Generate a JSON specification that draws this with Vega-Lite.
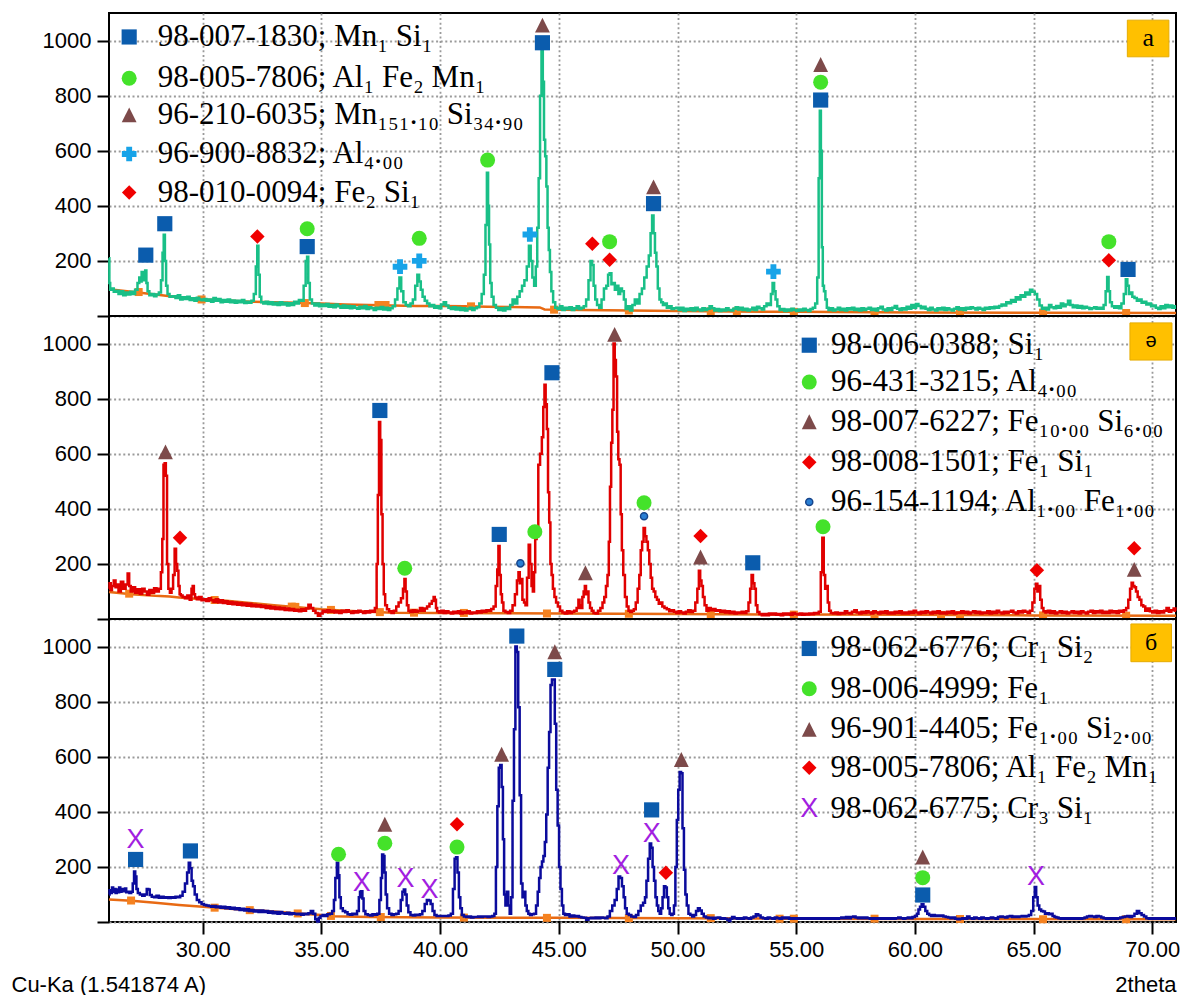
{
"$schema":"https://vega.github.io/schema/vega-lite/v6.json",
"autosize":{"type":"pad"},
"padding":{"left":10,"top":12,"right":2,"bottom":2},
"spacing":0,
"bounds":"flush",
"config":{"view":{"stroke":"black","strokeWidth":2},"axis":{"gridColor":"#9a9a9a","gridDash":[2,2.6],"gridWidth":1.8,"domain":false,"labelFont":"Liberation Sans","labelFontSize":22,"labelColor":"black","tickColor":"black","tickWidth":2,"tickSize":12},"font":"Liberation Sans"},
"datasets":{
"ta":[{"x":26.05,"y":210},{"x":26.08,"y":120},{"x":26.12,"y":95},{"x":26.2,"y":100},{"x":26.3,"y":88},{"x":26.4,"y":92},{"x":26.5,"y":80},{"x":26.6,"y":90},{"x":26.7,"y":75},{"x":26.8,"y":85},{"x":26.9,"y":78},{"x":27.0,"y":88},{"x":27.1,"y":80},{"x":27.2,"y":95},{"x":27.3,"y":120},{"x":27.35,"y":140},{"x":27.4,"y":125},{"x":27.45,"y":160},{"x":27.5,"y":130},{"x":27.55,"y":150},{"x":27.6,"y":165},{"x":27.65,"y":120},{"x":27.7,"y":90},{"x":27.8,"y":75},{"x":27.9,"y":80},{"x":28.0,"y":72},{"x":28.1,"y":78},{"x":28.2,"y":85},{"x":28.28,"y":130},{"x":28.33,"y":230},{"x":28.38,"y":295},{"x":28.43,"y":200},{"x":28.48,"y":110},{"x":28.55,"y":80},{"x":28.65,"y":70},{"x":28.8,"y":72},{"x":28.9,"y":65},{"x":29.0,"y":75},{"x":29.1,"y":60},{"x":29.2,"y":68},{"x":29.3,"y":62},{"x":29.4,"y":70},{"x":29.5,"y":58},{"x":29.6,"y":64},{"x":29.7,"y":55},{"x":29.8,"y":66},{"x":29.9,"y":60},{"x":30.0,"y":57},{"x":30.1,"y":62},{"x":30.2,"y":55},{"x":30.3,"y":60},{"x":30.4,"y":52},{"x":30.5,"y":65},{"x":30.6,"y":55},{"x":30.7,"y":62},{"x":30.8,"y":50},{"x":30.9,"y":58},{"x":31.0,"y":52},{"x":31.1,"y":60},{"x":31.2,"y":50},{"x":31.3,"y":56},{"x":31.4,"y":48},{"x":31.5,"y":55},{"x":31.6,"y":50},{"x":31.7,"y":58},{"x":31.8,"y":47},{"x":31.9,"y":52},{"x":32.0,"y":48},{"x":32.1,"y":55},{"x":32.2,"y":80},{"x":32.27,"y":180},{"x":32.32,"y":255},{"x":32.37,"y":150},{"x":32.43,"y":70},{"x":32.5,"y":50},{"x":32.6,"y":45},{"x":32.7,"y":52},{"x":32.8,"y":44},{"x":32.9,"y":50},{"x":33.0,"y":42},{"x":33.1,"y":48},{"x":33.2,"y":40},{"x":33.3,"y":50},{"x":33.4,"y":42},{"x":33.5,"y":47},{"x":33.6,"y":38},{"x":33.7,"y":46},{"x":33.8,"y":40},{"x":33.9,"y":52},{"x":34.0,"y":45},{"x":34.1,"y":58},{"x":34.2,"y":55},{"x":34.3,"y":110},{"x":34.37,"y":200},{"x":34.42,"y":215},{"x":34.47,"y":120},{"x":34.55,"y":60},{"x":34.65,"y":45},{"x":34.75,"y":38},{"x":34.85,"y":45},{"x":34.95,"y":35},{"x":35.05,"y":42},{"x":35.15,"y":36},{"x":35.25,"y":44},{"x":35.35,"y":34},{"x":35.45,"y":40},{"x":35.55,"y":32},{"x":35.65,"y":42},{"x":35.75,"y":35},{"x":35.85,"y":30},{"x":35.95,"y":38},{"x":36.05,"y":30},{"x":36.15,"y":36},{"x":36.25,"y":28},{"x":36.35,"y":35},{"x":36.45,"y":30},{"x":36.55,"y":26},{"x":36.65,"y":34},{"x":36.75,"y":28},{"x":36.85,"y":36},{"x":36.95,"y":25},{"x":37.05,"y":32},{"x":37.15,"y":28},{"x":37.25,"y":22},{"x":37.35,"y":30},{"x":37.45,"y":25},{"x":37.55,"y":33},{"x":37.65,"y":24},{"x":37.75,"y":30},{"x":37.85,"y":22},{"x":37.95,"y":28},{"x":38.05,"y":35},{"x":38.15,"y":60},{"x":38.25,"y":100},{"x":38.32,"y":140},{"x":38.4,"y":90},{"x":38.5,"y":50},{"x":38.6,"y":40},{"x":38.7,"y":35},{"x":38.8,"y":45},{"x":38.9,"y":60},{"x":39.0,"y":110},{"x":39.08,"y":150},{"x":39.15,"y":125},{"x":39.22,"y":95},{"x":39.3,"y":70},{"x":39.4,"y":55},{"x":39.5,"y":45},{"x":39.6,"y":35},{"x":39.7,"y":40},{"x":39.8,"y":30},{"x":39.9,"y":35},{"x":40.0,"y":28},{"x":40.1,"y":42},{"x":40.2,"y":50},{"x":40.3,"y":38},{"x":40.4,"y":30},{"x":40.5,"y":25},{"x":40.6,"y":32},{"x":40.7,"y":24},{"x":40.8,"y":30},{"x":40.9,"y":22},{"x":41.0,"y":28},{"x":41.1,"y":20},{"x":41.2,"y":26},{"x":41.3,"y":30},{"x":41.4,"y":22},{"x":41.5,"y":28},{"x":41.6,"y":32},{"x":41.7,"y":45},{"x":41.8,"y":80},{"x":41.88,"y":150},{"x":41.94,"y":330},{"x":42.0,"y":520},{"x":42.04,"y":400},{"x":42.08,"y":260},{"x":42.14,"y":120},{"x":42.2,"y":70},{"x":42.3,"y":40},{"x":42.4,"y":30},{"x":42.5,"y":22},{"x":42.6,"y":28},{"x":42.7,"y":20},{"x":42.8,"y":30},{"x":42.9,"y":25},{"x":43.0,"y":40},{"x":43.1,"y":60},{"x":43.2,"y":45},{"x":43.3,"y":70},{"x":43.4,"y":90},{"x":43.5,"y":110},{"x":43.6,"y":130},{"x":43.7,"y":180},{"x":43.78,"y":255},{"x":43.85,"y":200},{"x":43.92,"y":140},{"x":44.0,"y":110},{"x":44.06,"y":180},{"x":44.12,"y":320},{"x":44.18,"y":500},{"x":44.24,"y":800},{"x":44.3,"y":965},{"x":44.35,"y":850},{"x":44.4,"y":640},{"x":44.45,"y":580},{"x":44.5,"y":470},{"x":44.55,"y":320},{"x":44.6,"y":240},{"x":44.65,"y":160},{"x":44.72,"y":90},{"x":44.8,"y":50},{"x":44.9,"y":30},{"x":45.0,"y":25},{"x":45.1,"y":35},{"x":45.2,"y":22},{"x":45.3,"y":30},{"x":45.4,"y":25},{"x":45.5,"y":32},{"x":45.6,"y":22},{"x":45.7,"y":28},{"x":45.8,"y":35},{"x":45.9,"y":25},{"x":46.0,"y":30},{"x":46.1,"y":35},{"x":46.2,"y":60},{"x":46.3,"y":130},{"x":46.37,"y":200},{"x":46.43,"y":185},{"x":46.5,"y":110},{"x":46.57,"y":60},{"x":46.65,"y":40},{"x":46.75,"y":30},{"x":46.85,"y":60},{"x":46.95,"y":100},{"x":47.05,"y":110},{"x":47.1,"y":150},{"x":47.18,"y":155},{"x":47.25,"y":115},{"x":47.32,"y":120},{"x":47.4,"y":95},{"x":47.47,"y":110},{"x":47.55,"y":80},{"x":47.62,"y":100},{"x":47.7,"y":90},{"x":47.78,"y":60},{"x":47.85,"y":25},{"x":47.95,"y":35},{"x":48.05,"y":20},{"x":48.15,"y":40},{"x":48.25,"y":60},{"x":48.35,"y":45},{"x":48.45,"y":80},{"x":48.55,"y":100},{"x":48.65,"y":140},{"x":48.75,"y":180},{"x":48.83,"y":220},{"x":48.9,"y":300},{"x":48.96,"y":365},{"x":49.02,"y":300},{"x":49.08,"y":230},{"x":49.14,"y":180},{"x":49.2,"y":100},{"x":49.28,"y":60},{"x":49.35,"y":50},{"x":49.42,"y":40},{"x":49.5,"y":45},{"x":49.6,"y":30},{"x":49.7,"y":35},{"x":49.8,"y":25},{"x":49.9,"y":28},{"x":50.0,"y":30},{"x":50.1,"y":22},{"x":50.2,"y":30},{"x":50.3,"y":18},{"x":50.4,"y":26},{"x":50.5,"y":22},{"x":50.6,"y":28},{"x":50.7,"y":20},{"x":50.8,"y":30},{"x":50.9,"y":24},{"x":51.0,"y":20},{"x":51.1,"y":28},{"x":51.2,"y":22},{"x":51.3,"y":26},{"x":51.4,"y":35},{"x":51.5,"y":28},{"x":51.6,"y":20},{"x":51.7,"y":25},{"x":51.8,"y":18},{"x":51.9,"y":24},{"x":52.0,"y":20},{"x":52.1,"y":28},{"x":52.2,"y":22},{"x":52.3,"y":20},{"x":52.4,"y":26},{"x":52.5,"y":32},{"x":52.6,"y":24},{"x":52.7,"y":30},{"x":52.8,"y":22},{"x":52.9,"y":26},{"x":53.0,"y":20},{"x":53.1,"y":24},{"x":53.2,"y":30},{"x":53.3,"y":22},{"x":53.4,"y":34},{"x":53.5,"y":28},{"x":53.6,"y":24},{"x":53.7,"y":35},{"x":53.8,"y":45},{"x":53.9,"y":40},{"x":53.97,"y":80},{"x":54.04,"y":120},{"x":54.1,"y":90},{"x":54.16,"y":60},{"x":54.25,"y":35},{"x":54.35,"y":22},{"x":54.45,"y":25},{"x":54.55,"y":18},{"x":54.65,"y":24},{"x":54.75,"y":20},{"x":54.85,"y":26},{"x":54.95,"y":22},{"x":55.05,"y":18},{"x":55.15,"y":24},{"x":55.25,"y":20},{"x":55.35,"y":26},{"x":55.45,"y":22},{"x":55.55,"y":18},{"x":55.65,"y":25},{"x":55.75,"y":30},{"x":55.85,"y":45},{"x":55.92,"y":140},{"x":55.97,"y":500},{"x":56.02,"y":745},{"x":56.06,"y":600},{"x":56.1,"y":250},{"x":56.14,"y":110},{"x":56.2,"y":90},{"x":56.26,"y":60},{"x":56.32,"y":30},{"x":56.4,"y":22},{"x":56.5,"y":28},{"x":56.6,"y":20},{"x":56.7,"y":24},{"x":56.8,"y":30},{"x":56.9,"y":22},{"x":57.0,"y":26},{"x":57.1,"y":20},{"x":57.2,"y":28},{"x":57.3,"y":24},{"x":57.4,"y":30},{"x":57.5,"y":22},{"x":57.6,"y":26},{"x":57.7,"y":20},{"x":57.8,"y":28},{"x":57.9,"y":22},{"x":58.0,"y":26},{"x":58.1,"y":30},{"x":58.2,"y":22},{"x":58.3,"y":26},{"x":58.4,"y":20},{"x":58.5,"y":28},{"x":58.6,"y":34},{"x":58.7,"y":24},{"x":58.8,"y":20},{"x":58.9,"y":28},{"x":59.0,"y":22},{"x":59.1,"y":30},{"x":59.2,"y":36},{"x":59.3,"y":26},{"x":59.4,"y":22},{"x":59.5,"y":28},{"x":59.6,"y":24},{"x":59.7,"y":34},{"x":59.8,"y":26},{"x":59.9,"y":40},{"x":60.0,"y":30},{"x":60.1,"y":44},{"x":60.2,"y":36},{"x":60.3,"y":28},{"x":60.4,"y":34},{"x":60.5,"y":26},{"x":60.6,"y":22},{"x":60.7,"y":30},{"x":60.8,"y":24},{"x":60.9,"y":20},{"x":61.0,"y":28},{"x":61.1,"y":24},{"x":61.2,"y":30},{"x":61.3,"y":22},{"x":61.4,"y":28},{"x":61.5,"y":24},{"x":61.6,"y":20},{"x":61.7,"y":26},{"x":61.8,"y":32},{"x":61.9,"y":24},{"x":62.0,"y":28},{"x":62.1,"y":22},{"x":62.2,"y":30},{"x":62.3,"y":26},{"x":62.4,"y":32},{"x":62.5,"y":28},{"x":62.6,"y":24},{"x":62.7,"y":30},{"x":62.8,"y":26},{"x":62.9,"y":22},{"x":63.0,"y":30},{"x":63.1,"y":26},{"x":63.2,"y":32},{"x":63.3,"y":28},{"x":63.4,"y":34},{"x":63.5,"y":30},{"x":63.6,"y":36},{"x":63.7,"y":42},{"x":63.8,"y":38},{"x":63.9,"y":50},{"x":64.0,"y":46},{"x":64.1,"y":58},{"x":64.2,"y":52},{"x":64.3,"y":68},{"x":64.4,"y":60},{"x":64.5,"y":75},{"x":64.6,"y":70},{"x":64.7,"y":85},{"x":64.8,"y":78},{"x":64.9,"y":95},{"x":65.0,"y":88},{"x":65.1,"y":80},{"x":65.2,"y":60},{"x":65.3,"y":38},{"x":65.4,"y":26},{"x":65.5,"y":30},{"x":65.6,"y":24},{"x":65.7,"y":40},{"x":65.8,"y":32},{"x":65.9,"y":28},{"x":66.0,"y":36},{"x":66.1,"y":30},{"x":66.2,"y":45},{"x":66.3,"y":35},{"x":66.4,"y":42},{"x":66.5,"y":55},{"x":66.6,"y":40},{"x":66.7,"y":32},{"x":66.8,"y":38},{"x":66.9,"y":30},{"x":67.0,"y":36},{"x":67.1,"y":28},{"x":67.2,"y":34},{"x":67.3,"y":30},{"x":67.4,"y":25},{"x":67.5,"y":28},{"x":67.6,"y":32},{"x":67.7,"y":26},{"x":67.8,"y":30},{"x":67.9,"y":26},{"x":68.0,"y":40},{"x":68.07,"y":90},{"x":68.13,"y":142},{"x":68.19,"y":90},{"x":68.25,"y":50},{"x":68.35,"y":35},{"x":68.45,"y":30},{"x":68.55,"y":35},{"x":68.65,"y":28},{"x":68.75,"y":45},{"x":68.85,"y":80},{"x":68.92,"y":133},{"x":68.98,"y":110},{"x":69.05,"y":80},{"x":69.12,"y":85},{"x":69.2,"y":70},{"x":69.3,"y":65},{"x":69.4,"y":55},{"x":69.5,"y":60},{"x":69.6,"y":48},{"x":69.7,"y":52},{"x":69.8,"y":42},{"x":69.9,"y":45},{"x":70.0,"y":35},{"x":70.1,"y":38},{"x":70.2,"y":30},{"x":70.3,"y":25},{"x":70.4,"y":35},{"x":70.5,"y":28},{"x":70.6,"y":40},{"x":70.7,"y":32},{"x":70.8,"y":38},{"x":70.9,"y":30},{"x":71.0,"y":35}],
"tb":[{"x":26.05,"y":110},{"x":26.1,"y":130},{"x":26.15,"y":105},{"x":26.2,"y":120},{"x":26.3,"y":140},{"x":26.35,"y":115},{"x":26.4,"y":125},{"x":26.5,"y":100},{"x":26.6,"y":135},{"x":26.7,"y":110},{"x":26.8,"y":125},{"x":26.87,"y":165},{"x":26.93,"y":120},{"x":27.0,"y":100},{"x":27.1,"y":115},{"x":27.2,"y":95},{"x":27.3,"y":108},{"x":27.4,"y":92},{"x":27.5,"y":110},{"x":27.6,"y":100},{"x":27.7,"y":88},{"x":27.8,"y":105},{"x":27.9,"y":95},{"x":28.0,"y":112},{"x":28.1,"y":100},{"x":28.2,"y":110},{"x":28.27,"y":170},{"x":28.32,"y":290},{"x":28.37,"y":560},{"x":28.42,"y":565},{"x":28.47,"y":520},{"x":28.52,"y":200},{"x":28.58,"y":110},{"x":28.65,"y":95},{"x":28.72,"y":110},{"x":28.78,"y":160},{"x":28.85,"y":255},{"x":28.9,"y":200},{"x":28.95,"y":175},{"x":29.0,"y":120},{"x":29.05,"y":90},{"x":29.1,"y":85},{"x":29.2,"y":80},{"x":29.3,"y":75},{"x":29.4,"y":85},{"x":29.5,"y":70},{"x":29.55,"y":110},{"x":29.6,"y":120},{"x":29.65,"y":90},{"x":29.7,"y":78},{"x":29.8,"y":72},{"x":29.9,"y":80},{"x":30.0,"y":68},{"x":30.1,"y":72},{"x":30.2,"y":65},{"x":30.3,"y":75},{"x":30.4,"y":68},{"x":30.5,"y":62},{"x":30.6,"y":72},{"x":30.7,"y":60},{"x":30.8,"y":68},{"x":30.9,"y":58},{"x":31.0,"y":64},{"x":31.1,"y":55},{"x":31.2,"y":62},{"x":31.3,"y":54},{"x":31.4,"y":60},{"x":31.5,"y":52},{"x":31.6,"y":58},{"x":31.7,"y":50},{"x":31.8,"y":56},{"x":31.9,"y":48},{"x":32.0,"y":55},{"x":32.1,"y":46},{"x":32.2,"y":52},{"x":32.3,"y":45},{"x":32.4,"y":50},{"x":32.5,"y":44},{"x":32.6,"y":48},{"x":32.7,"y":40},{"x":32.8,"y":46},{"x":32.9,"y":38},{"x":33.0,"y":44},{"x":33.1,"y":36},{"x":33.2,"y":42},{"x":33.3,"y":35},{"x":33.4,"y":40},{"x":33.5,"y":33},{"x":33.6,"y":38},{"x":33.7,"y":32},{"x":33.8,"y":36},{"x":33.9,"y":30},{"x":34.0,"y":34},{"x":34.1,"y":28},{"x":34.2,"y":35},{"x":34.3,"y":30},{"x":34.4,"y":38},{"x":34.5,"y":52},{"x":34.6,"y":40},{"x":34.7,"y":30},{"x":34.8,"y":22},{"x":34.9,"y":12},{"x":35.0,"y":20},{"x":35.1,"y":30},{"x":35.2,"y":25},{"x":35.3,"y":32},{"x":35.4,"y":26},{"x":35.5,"y":30},{"x":35.6,"y":24},{"x":35.7,"y":28},{"x":35.8,"y":22},{"x":35.9,"y":30},{"x":36.0,"y":25},{"x":36.1,"y":32},{"x":36.2,"y":26},{"x":36.3,"y":22},{"x":36.4,"y":28},{"x":36.5,"y":24},{"x":36.6,"y":30},{"x":36.7,"y":26},{"x":36.8,"y":22},{"x":36.9,"y":28},{"x":37.0,"y":24},{"x":37.1,"y":30},{"x":37.2,"y":26},{"x":37.3,"y":40},{"x":37.35,"y":200},{"x":37.4,"y":450},{"x":37.45,"y":715},{"x":37.5,"y":650},{"x":37.55,"y":380},{"x":37.6,"y":200},{"x":37.65,"y":90},{"x":37.72,"y":50},{"x":37.8,"y":35},{"x":37.9,"y":28},{"x":38.0,"y":22},{"x":38.1,"y":30},{"x":38.2,"y":45},{"x":38.3,"y":60},{"x":38.4,"y":75},{"x":38.47,"y":110},{"x":38.52,"y":145},{"x":38.57,"y":100},{"x":38.63,"y":50},{"x":38.7,"y":30},{"x":38.8,"y":25},{"x":38.9,"y":32},{"x":39.0,"y":26},{"x":39.1,"y":30},{"x":39.2,"y":40},{"x":39.3,"y":30},{"x":39.4,"y":38},{"x":39.5,"y":45},{"x":39.6,"y":55},{"x":39.7,"y":65},{"x":39.75,"y":80},{"x":39.8,"y":70},{"x":39.85,"y":40},{"x":39.9,"y":28},{"x":40.0,"y":24},{"x":40.1,"y":30},{"x":40.2,"y":22},{"x":40.3,"y":28},{"x":40.4,"y":24},{"x":40.5,"y":20},{"x":40.6,"y":26},{"x":40.7,"y":22},{"x":40.8,"y":28},{"x":40.9,"y":20},{"x":41.0,"y":25},{"x":41.1,"y":22},{"x":41.2,"y":28},{"x":41.3,"y":20},{"x":41.4,"y":24},{"x":41.5,"y":22},{"x":41.6,"y":28},{"x":41.7,"y":24},{"x":41.8,"y":30},{"x":41.9,"y":26},{"x":42.0,"y":32},{"x":42.1,"y":30},{"x":42.2,"y":36},{"x":42.3,"y":45},{"x":42.38,"y":120},{"x":42.43,"y":180},{"x":42.48,"y":265},{"x":42.53,"y":160},{"x":42.58,"y":90},{"x":42.63,"y":60},{"x":42.7,"y":30},{"x":42.8,"y":25},{"x":42.9,"y":22},{"x":43.0,"y":30},{"x":43.1,"y":50},{"x":43.2,"y":90},{"x":43.27,"y":140},{"x":43.33,"y":170},{"x":43.38,"y":130},{"x":43.43,"y":145},{"x":43.5,"y":70},{"x":43.57,"y":60},{"x":43.62,"y":50},{"x":43.7,"y":150},{"x":43.76,"y":270},{"x":43.82,"y":200},{"x":43.88,"y":120},{"x":43.93,"y":100},{"x":43.98,"y":170},{"x":44.03,"y":290},{"x":44.1,"y":300},{"x":44.17,"y":560},{"x":44.25,"y":600},{"x":44.32,"y":660},{"x":44.37,"y":770},{"x":44.42,"y":850},{"x":44.47,"y":780},{"x":44.52,"y":690},{"x":44.57,"y":460},{"x":44.62,"y":350},{"x":44.67,"y":200},{"x":44.72,"y":160},{"x":44.78,"y":110},{"x":44.85,"y":80},{"x":44.92,"y":60},{"x":45.0,"y":45},{"x":45.1,"y":30},{"x":45.2,"y":24},{"x":45.3,"y":20},{"x":45.4,"y":28},{"x":45.5,"y":22},{"x":45.6,"y":26},{"x":45.7,"y":30},{"x":45.8,"y":40},{"x":45.85,"y":70},{"x":45.9,"y":50},{"x":45.96,"y":40},{"x":46.02,"y":80},{"x":46.07,"y":100},{"x":46.12,"y":120},{"x":46.17,"y":90},{"x":46.22,"y":100},{"x":46.28,"y":60},{"x":46.35,"y":40},{"x":46.42,"y":30},{"x":46.5,"y":22},{"x":46.6,"y":20},{"x":46.7,"y":30},{"x":46.8,"y":40},{"x":46.88,"y":60},{"x":46.95,"y":80},{"x":47.02,"y":120},{"x":47.08,"y":160},{"x":47.13,"y":280},{"x":47.18,"y":480},{"x":47.23,"y":640},{"x":47.28,"y":760},{"x":47.33,"y":1000},{"x":47.38,"y":940},{"x":47.43,"y":880},{"x":47.48,"y":680},{"x":47.53,"y":580},{"x":47.58,"y":560},{"x":47.63,"y":380},{"x":47.68,"y":250},{"x":47.75,"y":160},{"x":47.82,"y":80},{"x":47.9,"y":45},{"x":47.97,"y":30},{"x":48.05,"y":25},{"x":48.12,"y":30},{"x":48.2,"y":35},{"x":48.28,"y":60},{"x":48.36,"y":110},{"x":48.42,"y":160},{"x":48.48,"y":250},{"x":48.54,"y":280},{"x":48.6,"y":330},{"x":48.66,"y":300},{"x":48.72,"y":280},{"x":48.78,"y":250},{"x":48.84,"y":200},{"x":48.9,"y":150},{"x":48.96,"y":110},{"x":49.03,"y":100},{"x":49.1,"y":80},{"x":49.17,"y":70},{"x":49.25,"y":55},{"x":49.32,"y":60},{"x":49.4,"y":45},{"x":49.5,"y":40},{"x":49.6,"y":35},{"x":49.7,"y":28},{"x":49.8,"y":32},{"x":49.9,"y":26},{"x":50.0,"y":22},{"x":50.1,"y":28},{"x":50.2,"y":24},{"x":50.3,"y":20},{"x":50.4,"y":26},{"x":50.5,"y":32},{"x":50.6,"y":25},{"x":50.7,"y":30},{"x":50.8,"y":60},{"x":50.87,"y":110},{"x":50.93,"y":175},{"x":50.98,"y":140},{"x":51.04,"y":120},{"x":51.1,"y":80},{"x":51.18,"y":50},{"x":51.26,"y":30},{"x":51.35,"y":40},{"x":51.45,"y":32},{"x":51.55,"y":36},{"x":51.65,"y":30},{"x":51.75,"y":32},{"x":51.85,"y":26},{"x":51.95,"y":30},{"x":52.05,"y":24},{"x":52.15,"y":28},{"x":52.25,"y":22},{"x":52.35,"y":26},{"x":52.45,"y":20},{"x":52.55,"y":24},{"x":52.65,"y":22},{"x":52.75,"y":26},{"x":52.85,"y":22},{"x":52.95,"y":28},{"x":53.03,"y":60},{"x":53.09,"y":110},{"x":53.15,"y":160},{"x":53.21,"y":130},{"x":53.27,"y":110},{"x":53.33,"y":50},{"x":53.4,"y":25},{"x":53.5,"y":18},{"x":53.6,"y":14},{"x":53.7,"y":18},{"x":53.8,"y":14},{"x":53.9,"y":20},{"x":54.0,"y":16},{"x":54.1,"y":20},{"x":54.2,"y":15},{"x":54.3,"y":18},{"x":54.4,"y":14},{"x":54.5,"y":20},{"x":54.6,"y":16},{"x":54.7,"y":20},{"x":54.8,"y":15},{"x":54.9,"y":22},{"x":55.0,"y":18},{"x":55.1,"y":16},{"x":55.2,"y":20},{"x":55.3,"y":15},{"x":55.4,"y":19},{"x":55.5,"y":16},{"x":55.6,"y":20},{"x":55.7,"y":17},{"x":55.8,"y":22},{"x":55.9,"y":20},{"x":56.0,"y":26},{"x":56.07,"y":170},{"x":56.13,"y":295},{"x":56.19,"y":160},{"x":56.25,"y":110},{"x":56.3,"y":120},{"x":56.36,"y":60},{"x":56.42,"y":30},{"x":56.5,"y":22},{"x":56.6,"y":20},{"x":56.7,"y":24},{"x":56.8,"y":18},{"x":56.9,"y":22},{"x":57.0,"y":20},{"x":57.1,"y":28},{"x":57.2,"y":22},{"x":57.3,"y":20},{"x":57.4,"y":26},{"x":57.5,"y":32},{"x":57.6,"y":24},{"x":57.7,"y":20},{"x":57.8,"y":26},{"x":57.9,"y":22},{"x":58.0,"y":28},{"x":58.1,"y":24},{"x":58.2,"y":20},{"x":58.3,"y":28},{"x":58.4,"y":24},{"x":58.5,"y":20},{"x":58.6,"y":26},{"x":58.7,"y":22},{"x":58.8,"y":28},{"x":58.9,"y":20},{"x":59.0,"y":24},{"x":59.1,"y":20},{"x":59.2,"y":26},{"x":59.3,"y":22},{"x":59.4,"y":28},{"x":59.5,"y":20},{"x":59.6,"y":24},{"x":59.7,"y":20},{"x":59.8,"y":26},{"x":59.9,"y":22},{"x":60.0,"y":30},{"x":60.1,"y":24},{"x":60.2,"y":20},{"x":60.3,"y":26},{"x":60.4,"y":22},{"x":60.5,"y":28},{"x":60.6,"y":24},{"x":60.7,"y":20},{"x":60.8,"y":26},{"x":60.9,"y":22},{"x":61.0,"y":28},{"x":61.1,"y":20},{"x":61.2,"y":24},{"x":61.3,"y":20},{"x":61.4,"y":26},{"x":61.5,"y":22},{"x":61.6,"y":28},{"x":61.7,"y":20},{"x":61.8,"y":24},{"x":61.9,"y":22},{"x":62.0,"y":28},{"x":62.1,"y":22},{"x":62.2,"y":26},{"x":62.3,"y":20},{"x":62.4,"y":24},{"x":62.5,"y":28},{"x":62.6,"y":22},{"x":62.7,"y":26},{"x":62.8,"y":20},{"x":62.9,"y":24},{"x":63.0,"y":22},{"x":63.1,"y":28},{"x":63.2,"y":20},{"x":63.3,"y":26},{"x":63.4,"y":22},{"x":63.5,"y":30},{"x":63.6,"y":24},{"x":63.7,"y":20},{"x":63.8,"y":26},{"x":63.9,"y":22},{"x":64.0,"y":26},{"x":64.1,"y":30},{"x":64.2,"y":24},{"x":64.3,"y":20},{"x":64.4,"y":28},{"x":64.5,"y":24},{"x":64.6,"y":30},{"x":64.7,"y":26},{"x":64.8,"y":22},{"x":64.9,"y":30},{"x":65.0,"y":60},{"x":65.07,"y":110},{"x":65.13,"y":128},{"x":65.19,"y":100},{"x":65.25,"y":120},{"x":65.31,"y":70},{"x":65.38,"y":40},{"x":65.45,"y":28},{"x":65.55,"y":24},{"x":65.65,"y":30},{"x":65.75,"y":22},{"x":65.85,"y":28},{"x":65.95,"y":20},{"x":66.05,"y":24},{"x":66.15,"y":28},{"x":66.25,"y":22},{"x":66.35,"y":26},{"x":66.45,"y":20},{"x":66.55,"y":24},{"x":66.65,"y":28},{"x":66.75,"y":22},{"x":66.85,"y":26},{"x":66.95,"y":20},{"x":67.05,"y":28},{"x":67.15,"y":24},{"x":67.25,"y":20},{"x":67.35,"y":26},{"x":67.45,"y":30},{"x":67.55,"y":22},{"x":67.65,"y":28},{"x":67.75,"y":24},{"x":67.85,"y":30},{"x":67.95,"y":22},{"x":68.05,"y":26},{"x":68.15,"y":22},{"x":68.25,"y":30},{"x":68.35,"y":24},{"x":68.45,"y":28},{"x":68.55,"y":22},{"x":68.65,"y":30},{"x":68.75,"y":26},{"x":68.85,"y":32},{"x":68.95,"y":40},{"x":69.03,"y":70},{"x":69.1,"y":110},{"x":69.16,"y":132},{"x":69.22,"y":120},{"x":69.28,"y":115},{"x":69.35,"y":100},{"x":69.42,"y":80},{"x":69.5,"y":70},{"x":69.58,"y":50},{"x":69.66,"y":45},{"x":69.75,"y":30},{"x":69.85,"y":38},{"x":69.95,"y":28},{"x":70.05,"y":24},{"x":70.15,"y":30},{"x":70.25,"y":22},{"x":70.35,"y":28},{"x":70.45,"y":24},{"x":70.55,"y":30},{"x":70.65,"y":40},{"x":70.75,"y":26},{"x":70.85,"y":32},{"x":70.95,"y":38},{"x":71.0,"y":30}],
"tc":[{"x":26.05,"y":100},{"x":26.1,"y":115},{"x":26.15,"y":105},{"x":26.2,"y":125},{"x":26.25,"y":110},{"x":26.3,"y":120},{"x":26.35,"y":105},{"x":26.4,"y":118},{"x":26.45,"y":108},{"x":26.5,"y":125},{"x":26.55,"y":110},{"x":26.6,"y":120},{"x":26.65,"y":115},{"x":26.7,"y":112},{"x":26.75,"y":122},{"x":26.8,"y":108},{"x":26.87,"y":110},{"x":26.95,"y":105},{"x":27.02,"y":110},{"x":27.08,"y":140},{"x":27.13,"y":183},{"x":27.18,"y":165},{"x":27.23,"y":120},{"x":27.3,"y":105},{"x":27.4,"y":100},{"x":27.5,"y":95},{"x":27.6,"y":100},{"x":27.68,"y":120},{"x":27.73,"y":118},{"x":27.8,"y":98},{"x":27.9,"y":92},{"x":28.0,"y":90},{"x":28.1,"y":95},{"x":28.2,"y":88},{"x":28.3,"y":92},{"x":28.4,"y":88},{"x":28.5,"y":90},{"x":28.6,"y":87},{"x":28.7,"y":90},{"x":28.8,"y":88},{"x":28.9,"y":92},{"x":29.0,"y":90},{"x":29.1,"y":95},{"x":29.2,"y":110},{"x":29.3,"y":140},{"x":29.38,"y":180},{"x":29.44,"y":215},{"x":29.5,"y":195},{"x":29.56,"y":150},{"x":29.62,"y":130},{"x":29.7,"y":100},{"x":29.8,"y":80},{"x":29.9,"y":72},{"x":30.0,"y":65},{"x":30.1,"y":62},{"x":30.2,"y":60},{"x":30.3,"y":58},{"x":30.4,"y":55},{"x":30.5,"y":58},{"x":30.6,"y":54},{"x":30.7,"y":56},{"x":30.8,"y":52},{"x":30.9,"y":55},{"x":31.0,"y":50},{"x":31.1,"y":54},{"x":31.2,"y":48},{"x":31.3,"y":52},{"x":31.4,"y":46},{"x":31.5,"y":50},{"x":31.6,"y":44},{"x":31.7,"y":48},{"x":31.8,"y":42},{"x":31.9,"y":46},{"x":32.0,"y":40},{"x":32.1,"y":44},{"x":32.2,"y":38},{"x":32.3,"y":42},{"x":32.4,"y":36},{"x":32.5,"y":42},{"x":32.6,"y":36},{"x":32.7,"y":40},{"x":32.8,"y":34},{"x":32.9,"y":38},{"x":33.0,"y":32},{"x":33.1,"y":36},{"x":33.2,"y":30},{"x":33.3,"y":36},{"x":33.4,"y":32},{"x":33.5,"y":30},{"x":33.6,"y":34},{"x":33.7,"y":28},{"x":33.8,"y":32},{"x":33.9,"y":30},{"x":34.0,"y":28},{"x":34.1,"y":30},{"x":34.2,"y":26},{"x":34.3,"y":30},{"x":34.4,"y":28},{"x":34.5,"y":32},{"x":34.6,"y":40},{"x":34.7,"y":30},{"x":34.78,"y":10},{"x":34.85,"y":2},{"x":34.92,"y":15},{"x":35.0,"y":22},{"x":35.1,"y":25},{"x":35.2,"y":22},{"x":35.3,"y":28},{"x":35.4,"y":30},{"x":35.5,"y":40},{"x":35.55,"y":80},{"x":35.62,"y":160},{"x":35.68,"y":215},{"x":35.73,"y":170},{"x":35.78,"y":90},{"x":35.85,"y":50},{"x":35.95,"y":40},{"x":36.05,"y":35},{"x":36.15,"y":28},{"x":36.25,"y":26},{"x":36.35,"y":30},{"x":36.45,"y":28},{"x":36.55,"y":40},{"x":36.6,"y":90},{"x":36.65,"y":110},{"x":36.7,"y":112},{"x":36.75,"y":85},{"x":36.8,"y":40},{"x":36.9,"y":28},{"x":37.0,"y":25},{"x":37.1,"y":24},{"x":37.2,"y":28},{"x":37.3,"y":26},{"x":37.4,"y":30},{"x":37.48,"y":80},{"x":37.53,"y":160},{"x":37.58,"y":245},{"x":37.63,"y":240},{"x":37.68,"y":180},{"x":37.73,"y":100},{"x":37.8,"y":50},{"x":37.9,"y":30},{"x":38.0,"y":25},{"x":38.1,"y":28},{"x":38.2,"y":30},{"x":38.3,"y":40},{"x":38.38,"y":80},{"x":38.44,"y":110},{"x":38.5,"y":118},{"x":38.56,"y":100},{"x":38.62,"y":60},{"x":38.7,"y":35},{"x":38.8,"y":25},{"x":38.9,"y":24},{"x":39.0,"y":26},{"x":39.1,"y":25},{"x":39.2,"y":28},{"x":39.3,"y":40},{"x":39.4,"y":65},{"x":39.48,"y":80},{"x":39.56,"y":78},{"x":39.64,"y":65},{"x":39.72,"y":40},{"x":39.8,"y":25},{"x":39.9,"y":22},{"x":40.0,"y":22},{"x":40.1,"y":22},{"x":40.2,"y":22},{"x":40.3,"y":22},{"x":40.4,"y":24},{"x":40.5,"y":30},{"x":40.58,"y":120},{"x":40.64,"y":230},{"x":40.7,"y":235},{"x":40.76,"y":180},{"x":40.82,"y":90},{"x":40.88,"y":50},{"x":40.95,"y":25},{"x":41.05,"y":20},{"x":41.15,"y":18},{"x":41.25,"y":20},{"x":41.35,"y":16},{"x":41.45,"y":18},{"x":41.55,"y":18},{"x":41.65,"y":20},{"x":41.75,"y":18},{"x":41.85,"y":20},{"x":41.95,"y":20},{"x":42.05,"y":18},{"x":42.15,"y":20},{"x":42.25,"y":22},{"x":42.32,"y":30},{"x":42.38,"y":200},{"x":42.44,"y":420},{"x":42.5,"y":560},{"x":42.56,"y":570},{"x":42.62,"y":490},{"x":42.67,"y":300},{"x":42.72,"y":100},{"x":42.78,"y":60},{"x":42.84,"y":110},{"x":42.9,"y":60},{"x":42.96,"y":30},{"x":43.02,"y":90},{"x":43.08,"y":440},{"x":43.14,"y":700},{"x":43.2,"y":1000},{"x":43.26,"y":980},{"x":43.32,"y":780},{"x":43.38,"y":460},{"x":43.44,"y":140},{"x":43.5,"y":90},{"x":43.56,"y":110},{"x":43.62,"y":60},{"x":43.68,"y":40},{"x":43.75,"y":30},{"x":43.82,"y":25},{"x":43.9,"y":28},{"x":44.0,"y":30},{"x":44.08,"y":60},{"x":44.14,"y":110},{"x":44.2,"y":160},{"x":44.26,"y":200},{"x":44.32,"y":220},{"x":44.38,"y":240},{"x":44.44,"y":290},{"x":44.5,"y":390},{"x":44.56,"y":560},{"x":44.62,"y":690},{"x":44.68,"y":860},{"x":44.74,"y":880},{"x":44.8,"y":880},{"x":44.86,"y":720},{"x":44.92,"y":480},{"x":44.98,"y":350},{"x":45.04,"y":200},{"x":45.1,"y":120},{"x":45.16,"y":60},{"x":45.22,"y":30},{"x":45.3,"y":25},{"x":45.4,"y":28},{"x":45.5,"y":20},{"x":45.6,"y":24},{"x":45.7,"y":20},{"x":45.8,"y":22},{"x":45.9,"y":18},{"x":46.0,"y":16},{"x":46.1,"y":15},{"x":46.2,"y":8},{"x":46.3,"y":14},{"x":46.4,"y":15},{"x":46.5,"y":14},{"x":46.6,"y":16},{"x":46.7,"y":14},{"x":46.8,"y":16},{"x":46.9,"y":15},{"x":47.0,"y":14},{"x":47.1,"y":20},{"x":47.2,"y":40},{"x":47.3,"y":60},{"x":47.4,"y":80},{"x":47.48,"y":120},{"x":47.55,"y":165},{"x":47.62,"y":160},{"x":47.7,"y":130},{"x":47.76,"y":90},{"x":47.82,"y":50},{"x":47.9,"y":30},{"x":48.0,"y":25},{"x":48.1,"y":20},{"x":48.2,"y":18},{"x":48.3,"y":25},{"x":48.4,"y":40},{"x":48.5,"y":60},{"x":48.6,"y":70},{"x":48.66,"y":90},{"x":48.72,"y":150},{"x":48.8,"y":230},{"x":48.86,"y":285},{"x":48.92,"y":270},{"x":48.98,"y":200},{"x":49.04,"y":150},{"x":49.1,"y":90},{"x":49.16,"y":60},{"x":49.22,"y":40},{"x":49.28,"y":30},{"x":49.34,"y":50},{"x":49.4,"y":90},{"x":49.46,"y":130},{"x":49.52,"y":125},{"x":49.58,"y":90},{"x":49.64,"y":50},{"x":49.7,"y":30},{"x":49.76,"y":25},{"x":49.82,"y":30},{"x":49.88,"y":60},{"x":49.94,"y":200},{"x":50.0,"y":370},{"x":50.06,"y":480},{"x":50.12,"y":545},{"x":50.18,"y":540},{"x":50.24,"y":340},{"x":50.3,"y":190},{"x":50.36,"y":100},{"x":50.42,"y":60},{"x":50.5,"y":30},{"x":50.58,"y":25},{"x":50.66,"y":20},{"x":50.74,"y":25},{"x":50.82,"y":40},{"x":50.9,"y":50},{"x":50.98,"y":42},{"x":51.06,"y":30},{"x":51.15,"y":20},{"x":51.25,"y":16},{"x":51.35,"y":14},{"x":51.45,"y":15},{"x":51.55,"y":12},{"x":51.65,"y":15},{"x":51.75,"y":16},{"x":51.85,"y":12},{"x":51.95,"y":14},{"x":52.05,"y":12},{"x":52.15,"y":8},{"x":52.2,"y":4},{"x":52.25,"y":12},{"x":52.35,"y":18},{"x":52.45,"y":14},{"x":52.55,"y":12},{"x":52.65,"y":14},{"x":52.75,"y":12},{"x":52.85,"y":16},{"x":52.95,"y":14},{"x":53.05,"y":12},{"x":53.15,"y":16},{"x":53.25,"y":20},{"x":53.35,"y":28},{"x":53.45,"y":24},{"x":53.55,"y":16},{"x":53.65,"y":14},{"x":53.75,"y":12},{"x":53.85,"y":16},{"x":53.95,"y":14},{"x":54.05,"y":12},{"x":54.15,"y":16},{"x":54.25,"y":14},{"x":54.35,"y":12},{"x":54.45,"y":16},{"x":54.55,"y":14},{"x":54.65,"y":16},{"x":54.75,"y":12},{"x":54.85,"y":14},{"x":54.95,"y":12},{"x":55.05,"y":14},{"x":55.15,"y":12},{"x":55.25,"y":14},{"x":55.35,"y":12},{"x":55.45,"y":14},{"x":55.55,"y":12},{"x":55.65,"y":14},{"x":55.75,"y":12},{"x":55.85,"y":14},{"x":55.95,"y":12},{"x":56.05,"y":14},{"x":56.15,"y":12},{"x":56.25,"y":14},{"x":56.35,"y":12},{"x":56.45,"y":14},{"x":56.55,"y":12},{"x":56.65,"y":14},{"x":56.75,"y":12},{"x":56.85,"y":14},{"x":56.95,"y":16},{"x":57.05,"y":14},{"x":57.15,"y":18},{"x":57.25,"y":14},{"x":57.35,"y":18},{"x":57.45,"y":20},{"x":57.55,"y":16},{"x":57.65,"y":14},{"x":57.75,"y":16},{"x":57.85,"y":14},{"x":57.95,"y":16},{"x":58.05,"y":14},{"x":58.15,"y":12},{"x":58.25,"y":14},{"x":58.35,"y":12},{"x":58.45,"y":14},{"x":58.55,"y":12},{"x":58.65,"y":14},{"x":58.75,"y":12},{"x":58.85,"y":14},{"x":58.95,"y":12},{"x":59.05,"y":14},{"x":59.15,"y":12},{"x":59.25,"y":14},{"x":59.35,"y":16},{"x":59.45,"y":14},{"x":59.55,"y":12},{"x":59.65,"y":14},{"x":59.75,"y":16},{"x":59.85,"y":14},{"x":59.95,"y":18},{"x":60.05,"y":22},{"x":60.12,"y":30},{"x":60.18,"y":45},{"x":60.25,"y":55},{"x":60.32,"y":64},{"x":60.4,"y":55},{"x":60.48,"y":40},{"x":60.56,"y":30},{"x":60.64,"y":25},{"x":60.72,"y":22},{"x":60.8,"y":25},{"x":60.88,"y":22},{"x":60.96,"y":24},{"x":61.05,"y":22},{"x":61.15,"y":24},{"x":61.25,"y":20},{"x":61.35,"y":18},{"x":61.45,"y":16},{"x":61.55,"y":14},{"x":61.65,"y":16},{"x":61.75,"y":12},{"x":61.85,"y":10},{"x":61.95,"y":12},{"x":62.05,"y":14},{"x":62.15,"y":12},{"x":62.25,"y":20},{"x":62.35,"y":14},{"x":62.45,"y":12},{"x":62.55,"y":16},{"x":62.65,"y":14},{"x":62.75,"y":12},{"x":62.85,"y":16},{"x":62.95,"y":14},{"x":63.05,"y":12},{"x":63.15,"y":14},{"x":63.25,"y":16},{"x":63.35,"y":14},{"x":63.45,"y":12},{"x":63.55,"y":18},{"x":63.65,"y":20},{"x":63.75,"y":18},{"x":63.85,"y":16},{"x":63.95,"y":20},{"x":64.05,"y":22},{"x":64.15,"y":18},{"x":64.25,"y":20},{"x":64.35,"y":18},{"x":64.45,"y":20},{"x":64.55,"y":22},{"x":64.65,"y":20},{"x":64.75,"y":22},{"x":64.85,"y":25},{"x":64.95,"y":40},{"x":65.02,"y":90},{"x":65.08,"y":127},{"x":65.14,"y":90},{"x":65.2,"y":60},{"x":65.28,"y":45},{"x":65.36,"y":40},{"x":65.44,"y":38},{"x":65.52,"y":30},{"x":65.6,"y":32},{"x":65.68,"y":28},{"x":65.76,"y":30},{"x":65.84,"y":22},{"x":65.92,"y":18},{"x":66.0,"y":16},{"x":66.1,"y":14},{"x":66.2,"y":12},{"x":66.3,"y":14},{"x":66.4,"y":12},{"x":66.5,"y":14},{"x":66.6,"y":12},{"x":66.7,"y":14},{"x":66.8,"y":12},{"x":66.9,"y":14},{"x":67.0,"y":12},{"x":67.1,"y":14},{"x":67.2,"y":16},{"x":67.3,"y":20},{"x":67.4,"y":22},{"x":67.5,"y":20},{"x":67.6,"y":18},{"x":67.7,"y":22},{"x":67.8,"y":20},{"x":67.9,"y":16},{"x":68.0,"y":14},{"x":68.1,"y":12},{"x":68.2,"y":14},{"x":68.3,"y":12},{"x":68.4,"y":14},{"x":68.5,"y":12},{"x":68.6,"y":14},{"x":68.7,"y":16},{"x":68.8,"y":18},{"x":68.9,"y":20},{"x":69.0,"y":22},{"x":69.1,"y":18},{"x":69.2,"y":22},{"x":69.3,"y":30},{"x":69.4,"y":40},{"x":69.5,"y":32},{"x":69.6,"y":25},{"x":69.7,"y":20},{"x":69.8,"y":14},{"x":69.9,"y":12},{"x":70.0,"y":14},{"x":70.1,"y":12},{"x":70.2,"y":14},{"x":70.3,"y":12},{"x":70.4,"y":14},{"x":70.5,"y":12},{"x":70.6,"y":14},{"x":70.7,"y":12},{"x":70.8,"y":14},{"x":70.9,"y":12},{"x":71.0,"y":14}],
"base":[{"p":"a","x":26.05,"y":97},{"p":"a","x":27,"y":88},{"p":"a","x":28,"y":78},{"p":"a","x":29,"y":68},{"p":"a","x":30,"y":60},{"p":"a","x":31,"y":56},{"p":"a","x":32,"y":52},{"p":"a","x":33,"y":50},{"p":"a","x":34,"y":48},{"p":"a","x":35,"y":45},{"p":"a","x":36,"y":42},{"p":"a","x":37,"y":40},{"p":"a","x":38,"y":38},{"p":"a","x":39,"y":36},{"p":"a","x":40,"y":36},{"p":"a","x":41,"y":35},{"p":"a","x":42,"y":34},{"p":"a","x":43,"y":33},{"p":"a","x":44.2,"y":31},{"p":"a","x":44.4,"y":24},{"p":"a","x":46,"y":22},{"p":"a","x":48,"y":20},{"p":"a","x":50,"y":18},{"p":"a","x":55,"y":15},{"p":"a","x":60,"y":13},{"p":"a","x":65,"y":12},{"p":"a","x":71,"y":11},
{"p":"b","x":26.05,"y":98},{"p":"b","x":27,"y":90},{"p":"b","x":28,"y":84},{"p":"b","x":28.6,"y":82},{"p":"b","x":29,"y":78},{"p":"b","x":30,"y":72},{"p":"b","x":31,"y":66},{"p":"b","x":32,"y":58},{"p":"b","x":33,"y":50},{"p":"b","x":34,"y":43},{"p":"b","x":35,"y":35},{"p":"b","x":36,"y":30},{"p":"b","x":37,"y":26},{"p":"b","x":38,"y":23},{"p":"b","x":40,"y":22},{"p":"b","x":45,"y":20},{"p":"b","x":50,"y":18},{"p":"b","x":55,"y":16},{"p":"b","x":60,"y":15},{"p":"b","x":65,"y":13},{"p":"b","x":71,"y":12},
{"p":"c","x":26.05,"y":82},{"p":"c","x":27,"y":77},{"p":"c","x":28,"y":70},{"p":"c","x":29,"y":62},{"p":"c","x":30,"y":55},{"p":"c","x":31,"y":49},{"p":"c","x":32,"y":43},{"p":"c","x":33,"y":38},{"p":"c","x":34,"y":31},{"p":"c","x":35,"y":25},{"p":"c","x":35.5,"y":21},{"p":"c","x":37,"y":18},{"p":"c","x":40,"y":16},{"p":"c","x":45,"y":15},{"p":"c","x":50,"y":14},{"p":"c","x":55,"y":12},{"p":"c","x":60,"y":11},{"p":"c","x":71,"y":10}],
"bm":[{"p":"a","x":27.3,"y":87},{"p":"a","x":29.95,"y":60},{"p":"a","x":34.3,"y":47},{"p":"a","x":37.4,"y":40},{"p":"a","x":37.55,"y":40},{"p":"a","x":37.7,"y":40},{"p":"a","x":41.3,"y":35},{"p":"a","x":44.8,"y":23},{"p":"a","x":47.95,"y":20},{"p":"a","x":51.4,"y":17},{"p":"a","x":52.5,"y":17},{"p":"a","x":54.9,"y":15},{"p":"a","x":58.3,"y":14},{"p":"a","x":61.9,"y":13},{"p":"a","x":65.4,"y":12},{"p":"a","x":68.9,"y":11},
{"p":"b","x":26.9,"y":92},{"p":"b","x":30.5,"y":69},{"p":"b","x":33.75,"y":45},{"p":"b","x":33.9,"y":44},{"p":"b","x":35.4,"y":33},{"p":"b","x":37.46,"y":25},{"p":"b","x":38.9,"y":23},{"p":"b","x":41.0,"y":22},{"p":"b","x":44.5,"y":20},{"p":"b","x":47.95,"y":19},{"p":"b","x":51.4,"y":18},{"p":"b","x":54.9,"y":16},{"p":"b","x":58.3,"y":15},{"p":"b","x":61.1,"y":15},{"p":"b","x":61.9,"y":14},{"p":"b","x":65.4,"y":13},{"p":"b","x":68.9,"y":12},
{"p":"c","x":26.98,"y":78},{"p":"c","x":30.5,"y":52},{"p":"c","x":31.98,"y":43},{"p":"c","x":34.0,"y":31},{"p":"c","x":35.4,"y":22},{"p":"c","x":37.5,"y":18},{"p":"c","x":41.0,"y":16},{"p":"c","x":44.5,"y":15},{"p":"c","x":47.95,"y":14},{"p":"c","x":51.4,"y":14},{"p":"c","x":54.3,"y":12},{"p":"c","x":54.9,"y":12},{"p":"c","x":58.3,"y":12},{"p":"c","x":61.9,"y":11},{"p":"c","x":65.4,"y":10},{"p":"c","x":68.9,"y":10}],
"pk":[{"p":"a","x":27.6,"y":221,"t":"sq"},{"p":"a","x":28.4,"y":335,"t":"sq"},{"p":"a","x":32.3,"y":289,"t":"di"},{"p":"a","x":34.4,"y":317,"t":"ci"},{"p":"a","x":34.4,"y":252,"t":"sq"},{"p":"a","x":38.31,"y":179,"t":"pl"},{"p":"a","x":39.12,"y":200,"t":"pl"},{"p":"a","x":39.12,"y":282,"t":"ci"},{"p":"a","x":42.0,"y":566,"t":"ci"},{"p":"a","x":43.78,"y":296,"t":"pl"},{"p":"a","x":44.31,"y":992,"t":"sq"},{"p":"a","x":44.31,"y":1056,"t":"tr"},{"p":"a","x":46.41,"y":262,"t":"di"},{"p":"a","x":47.14,"y":270,"t":"ci"},{"p":"a","x":47.14,"y":204,"t":"di"},{"p":"a","x":48.99,"y":408,"t":"sq"},{"p":"a","x":48.99,"y":469,"t":"tr"},{"p":"a","x":54.04,"y":161,"t":"pl"},{"p":"a","x":56.03,"y":784,"t":"sq"},{"p":"a","x":56.03,"y":849,"t":"ci"},{"p":"a","x":56.03,"y":913,"t":"tr"},{"p":"a","x":68.17,"y":270,"t":"ci"},{"p":"a","x":68.17,"y":202,"t":"di"},{"p":"a","x":68.98,"y":169,"t":"sq"},
{"p":"a","x":26.9,"y":1013,"t":"sq"},{"p":"a","x":26.9,"y":863,"t":"ci"},{"p":"a","x":26.9,"y":730,"t":"tr"},{"p":"a","x":26.9,"y":588,"t":"pl"},{"p":"a","x":26.9,"y":448,"t":"di"},
{"p":"b","x":28.43,"y":607,"t":"tr"},{"p":"b","x":29.04,"y":295,"t":"di"},{"p":"b","x":37.46,"y":757,"t":"sq"},{"p":"b","x":38.51,"y":184,"t":"ci"},{"p":"b","x":42.49,"y":307,"t":"sq"},{"p":"b","x":43.38,"y":202,"t":"sc"},{"p":"b","x":43.99,"y":317,"t":"ci"},{"p":"b","x":44.71,"y":894,"t":"sq"},{"p":"b","x":46.12,"y":168,"t":"tr"},{"p":"b","x":47.35,"y":1033,"t":"tr"},{"p":"b","x":48.59,"y":373,"t":"sc"},{"p":"b","x":48.59,"y":422,"t":"ci"},{"p":"b","x":50.97,"y":301,"t":"di"},{"p":"b","x":50.97,"y":225,"t":"tr"},{"p":"b","x":53.17,"y":204,"t":"sq"},{"p":"b","x":56.13,"y":335,"t":"ci"},{"p":"b","x":65.14,"y":177,"t":"di"},{"p":"b","x":69.24,"y":257,"t":"di"},{"p":"b","x":69.24,"y":180,"t":"tr"},
{"p":"b","x":55.55,"y":994,"t":"sq"},{"p":"b","x":55.55,"y":860,"t":"ci"},{"p":"b","x":55.55,"y":716,"t":"tr"},{"p":"b","x":55.55,"y":569,"t":"di"},{"p":"b","x":55.55,"y":425,"t":"sc"},
{"p":"c","x":27.17,"y":227,"t":"sq"},{"p":"c","x":27.17,"y":296,"t":"X"},{"p":"c","x":29.48,"y":258,"t":"sq"},{"p":"c","x":35.72,"y":246,"t":"ci"},{"p":"c","x":36.7,"y":140,"t":"X"},{"p":"c","x":37.67,"y":355,"t":"tr"},{"p":"c","x":37.67,"y":286,"t":"ci"},{"p":"c","x":38.54,"y":155,"t":"X"},{"p":"c","x":39.55,"y":115,"t":"X"},{"p":"c","x":40.71,"y":355,"t":"di"},{"p":"c","x":40.71,"y":272,"t":"ci"},{"p":"c","x":42.59,"y":609,"t":"tr"},{"p":"c","x":43.23,"y":1038,"t":"sq"},{"p":"c","x":44.83,"y":981,"t":"tr"},{"p":"c","x":44.83,"y":917,"t":"sq"},{"p":"c","x":47.62,"y":203,"t":"X"},{"p":"c","x":48.91,"y":407,"t":"sq"},{"p":"c","x":48.91,"y":321,"t":"X"},{"p":"c","x":49.51,"y":179,"t":"di"},{"p":"c","x":50.16,"y":590,"t":"tr"},{"p":"c","x":60.33,"y":236,"t":"tr"},{"p":"c","x":60.33,"y":161,"t":"ci"},{"p":"c","x":60.33,"y":98,"t":"sq"},{"p":"c","x":65.1,"y":165,"t":"X"},
{"p":"c","x":55.55,"y":993,"t":"sq"},{"p":"c","x":55.55,"y":847,"t":"ci"},{"p":"c","x":55.55,"y":699,"t":"tr"},{"p":"c","x":55.55,"y":560,"t":"di"},{"p":"c","x":55.55,"y":409,"t":"X"}],
"lt":[{"p":"a","x":28.1,"y":1013,"label":"98-007-1830; Mn₁ Si₁"},{"p":"a","x":28.1,"y":863,"label":"98-005-7806; Al₁ Fe₂ Mn₁"},{"p":"a","x":28.1,"y":730,"label":"96-210-6035; Mn₁₅₁.₁₀ Si₃₄.₉₀"},{"p":"a","x":28.1,"y":588,"label":"96-900-8832; Al₄.₀₀"},{"p":"a","x":28.1,"y":448,"label":"98-010-0094; Fe₂ Si₁"},
{"p":"b","x":56.47,"y":994,"label":"98-006-0388; Si₁"},{"p":"b","x":56.47,"y":860,"label":"96-431-3215; Al₄.₀₀"},{"p":"b","x":56.47,"y":716,"label":"98-007-6227; Fe₁₀.₀₀ Si₆.₀₀"},{"p":"b","x":56.47,"y":569,"label":"98-008-1501; Fe₁ Si₁"},{"p":"b","x":56.47,"y":425,"label":"96-154-1194; Al₁.₀₀ Fe₁.₀₀"},
{"p":"c","x":56.45,"y":993,"label":"98-062-6776; Cr₁ Si₂"},{"p":"c","x":56.45,"y":847,"label":"98-006-4999; Fe₁"},{"p":"c","x":56.45,"y":699,"label":"96-901-4405; Fe₁.₀₀ Si₂.₀₀"},{"p":"c","x":56.45,"y":560,"label":"98-005-7806; Al₁ Fe₂ Mn₁"},{"p":"c","x":56.45,"y":409,"label":"98-062-6775; Cr₃ Si₁"}],
"bd":[{"p":"a","x":68.95,"x2":70.7,"y":941,"y2":1074},{"p":"b","x":69.06,"x2":70.83,"y":940,"y2":1075},{"p":"c","x":69.1,"x2":70.81,"y":945,"y2":1082}],
"bt":[{"p":"a","x":69.83,"y":1008,"label":"a"},{"p":"b","x":69.95,"y":1008,"label":"ə"},{"p":"c","x":69.95,"y":1013,"label":"б"}]
},
"vconcat":[
{"width":1067,"height":303,
"encoding":{"x":{"field":"x","type":"quantitative","scale":{"domain":[26.05,71],"nice":false,"zero":false},"axis":{"values":[30,35,40,45,50,55,60,65,70],"labels":false,"ticks":false,"title":null,"grid":true}},
"y":{"field":"y","type":"quantitative","scale":{"domain":[0,1100],"nice":false},"axis":{"values":[0,200,400,600,800,1000],"format":"d","labelExpr":"datum.value==0?'':datum.label","labelPadding":6,"title":null,"grid":true}}},
"layer":[
{"data":{"name":"base"},"transform":[{"filter":"datum.p=='a'"}],"mark":{"type":"line","color":"#e86a13","strokeWidth":2.5},"encoding":{}},
{"data":{"name":"bm"},"transform":[{"filter":"datum.p=='a'"}],"mark":{"type":"point","shape":"square","filled":true,"color":"#f58220","size":64,"opacity":1}},
{"data":{"name":"ta"},"mark":{"type":"line","color":"#19bf87","strokeWidth":2.5,"interpolate":"step"},"encoding":{}},
{"data":{"name":"pk"},"transform":[{"filter":"datum.p=='a' && datum.t!='sc' && datum.t!='X'"}],"mark":{"type":"point","filled":true,"opacity":1,"strokeWidth":0},
"encoding":{"shape":{"field":"t","type":"nominal","scale":{"domain":["sq","ci","tr","pl","di"],"range":["square","circle","M0,-1L1,1L-1,1Z","cross","diamond"]},"legend":null},"color":{"field":"t","type":"nominal","scale":{"domain":["sq","ci","tr","pl","di"],"range":["#0b5cad","#44e22a","#7d4a4a","#17a3e8","#f00000"]},"legend":null},"size":{"field":"t","type":"ordinal","scale":{"domain":["sq","ci","tr","pl","di"],"range":[230,210,260,300,260]},"legend":null}}},
{"data":{"name":"lt"},"transform":[{"filter":"datum.p=='a'"}],"mark":{"type":"text","align":"left","baseline":"middle","font":"Liberation Serif","fontSize":31,"color":"black"},"encoding":{"text":{"field":"label"}}},
{"data":{"name":"bd"},"transform":[{"filter":"datum.p=='a'"}],"mark":{"type":"rect","color":"#ffc000","stroke":"#e6ac00","strokeWidth":1},"encoding":{"x2":{"field":"x2"},"y2":{"field":"y2"}}},
{"data":{"name":"bt"},"transform":[{"filter":"datum.p=='a'"}],"mark":{"type":"text","align":"center","baseline":"middle","font":"Liberation Serif","fontSize":26,"color":"black"},"encoding":{"text":{"field":"label"}}}
]},
{"width":1067,"height":303,
"encoding":{"x":{"field":"x","type":"quantitative","scale":{"domain":[26.05,71],"nice":false,"zero":false},"axis":{"values":[30,35,40,45,50,55,60,65,70],"labels":false,"ticks":false,"title":null,"grid":true}},
"y":{"field":"y","type":"quantitative","scale":{"domain":[0,1100],"nice":false},"axis":{"values":[0,200,400,600,800,1000],"format":"d","labelExpr":"datum.value==0?'':datum.label","labelPadding":6,"title":null,"grid":true}}},
"layer":[
{"data":{"name":"base"},"transform":[{"filter":"datum.p=='b'"}],"mark":{"type":"line","color":"#e86a13","strokeWidth":2.5},"encoding":{}},
{"data":{"name":"bm"},"transform":[{"filter":"datum.p=='b'"}],"mark":{"type":"point","shape":"square","filled":true,"color":"#f58220","size":64,"opacity":1}},
{"data":{"name":"tb"},"mark":{"type":"line","color":"#e00000","strokeWidth":2.5,"interpolate":"step"},"encoding":{}},
{"data":{"name":"pk"},"transform":[{"filter":"datum.p=='b' && datum.t!='sc' && datum.t!='X'"}],"mark":{"type":"point","filled":true,"opacity":1,"strokeWidth":0},
"encoding":{"shape":{"field":"t","type":"nominal","scale":{"domain":["sq","ci","tr","pl","di"],"range":["square","circle","M0,-1L1,1L-1,1Z","cross","diamond"]},"legend":null},"color":{"field":"t","type":"nominal","scale":{"domain":["sq","ci","tr","pl","di"],"range":["#0b5cad","#44e22a","#7d4a4a","#17a3e8","#f00000"]},"legend":null},"size":{"field":"t","type":"ordinal","scale":{"domain":["sq","ci","tr","pl","di"],"range":[230,210,260,300,260]},"legend":null}}},
{"data":{"name":"pk"},"transform":[{"filter":"datum.p=='b' && datum.t=='sc'"}],"mark":{"type":"point","shape":"circle","filled":true,"fill":"#2a7fd4","stroke":"#17458c","strokeWidth":1.5,"size":50,"opacity":1}},
{"data":{"name":"lt"},"transform":[{"filter":"datum.p=='b'"}],"mark":{"type":"text","align":"left","baseline":"middle","font":"Liberation Serif","fontSize":31,"color":"black"},"encoding":{"text":{"field":"label"}}},
{"data":{"name":"bd"},"transform":[{"filter":"datum.p=='b'"}],"mark":{"type":"rect","color":"#ffc000","stroke":"#e6ac00","strokeWidth":1},"encoding":{"x2":{"field":"x2"},"y2":{"field":"y2"}}},
{"data":{"name":"bt"},"transform":[{"filter":"datum.p=='b'"}],"mark":{"type":"text","align":"center","baseline":"middle","font":"Liberation Sans","fontSize":20,"color":"black"},"encoding":{"text":{"field":"label"}}}
]},
{"width":1067,"height":303,
"encoding":{"x":{"field":"x","type":"quantitative","scale":{"domain":[26.05,71],"nice":false,"zero":false},"axis":{"values":[30,35,40,45,50,55,60,65,70],"format":".2f","labelPadding":5,"labelFlush":false,"grid":true,"title":"2theta","titleX":1067,"titleY":62,"titleAlign":"right","titleBaseline":"middle","titleFont":"Liberation Sans","titleFontSize":22,"titleFontWeight":"normal","titleColor":"black"}},
"y":{"field":"y","type":"quantitative","scale":{"domain":[0,1100],"nice":false},"axis":{"values":[0,200,400,600,800,1000],"format":"d","labelExpr":"datum.value==0?'':datum.label","labelPadding":6,"grid":true,"title":"Cu-Ka (1.541874 A)","titleAngle":0,"titleX":-98,"titleY":365,"titleAlign":"left","titleBaseline":"middle","titleFont":"Liberation Sans","titleFontSize":22,"titleFontWeight":"normal","titleColor":"black"}}},
"layer":[
{"data":{"name":"base"},"transform":[{"filter":"datum.p=='c'"}],"mark":{"type":"line","color":"#e86a13","strokeWidth":2.5},"encoding":{}},
{"data":{"name":"bm"},"transform":[{"filter":"datum.p=='c'"}],"mark":{"type":"point","shape":"square","filled":true,"color":"#f58220","size":64,"opacity":1}},
{"data":{"name":"tc"},"mark":{"type":"line","color":"#0b0b9c","strokeWidth":2.5,"interpolate":"step"},"encoding":{}},
{"data":{"name":"pk"},"transform":[{"filter":"datum.p=='c' && datum.t!='sc' && datum.t!='X'"}],"mark":{"type":"point","filled":true,"opacity":1,"strokeWidth":0},
"encoding":{"shape":{"field":"t","type":"nominal","scale":{"domain":["sq","ci","tr","pl","di"],"range":["square","circle","M0,-1L1,1L-1,1Z","cross","diamond"]},"legend":null},"color":{"field":"t","type":"nominal","scale":{"domain":["sq","ci","tr","pl","di"],"range":["#0b5cad","#44e22a","#7d4a4a","#17a3e8","#f00000"]},"legend":null},"size":{"field":"t","type":"ordinal","scale":{"domain":["sq","ci","tr","pl","di"],"range":[230,210,260,300,260]},"legend":null}}},
{"data":{"name":"pk"},"transform":[{"filter":"datum.p=='c' && datum.t=='X'"}],"mark":{"type":"text","text":"X","align":"center","baseline":"middle","font":"Liberation Sans","fontSize":27,"color":"#a21ee0"}},
{"data":{"name":"lt"},"transform":[{"filter":"datum.p=='c'"}],"mark":{"type":"text","align":"left","baseline":"middle","font":"Liberation Serif","fontSize":31,"color":"black"},"encoding":{"text":{"field":"label"}}},
{"data":{"name":"bd"},"transform":[{"filter":"datum.p=='c'"}],"mark":{"type":"rect","color":"#ffc000","stroke":"#e6ac00","strokeWidth":1},"encoding":{"x2":{"field":"x2"},"y2":{"field":"y2"}}},
{"data":{"name":"bt"},"transform":[{"filter":"datum.p=='c'"}],"mark":{"type":"text","align":"center","baseline":"middle","font":"Liberation Serif","fontSize":24,"color":"black"},"encoding":{"text":{"field":"label"}}}
]}
]
}
